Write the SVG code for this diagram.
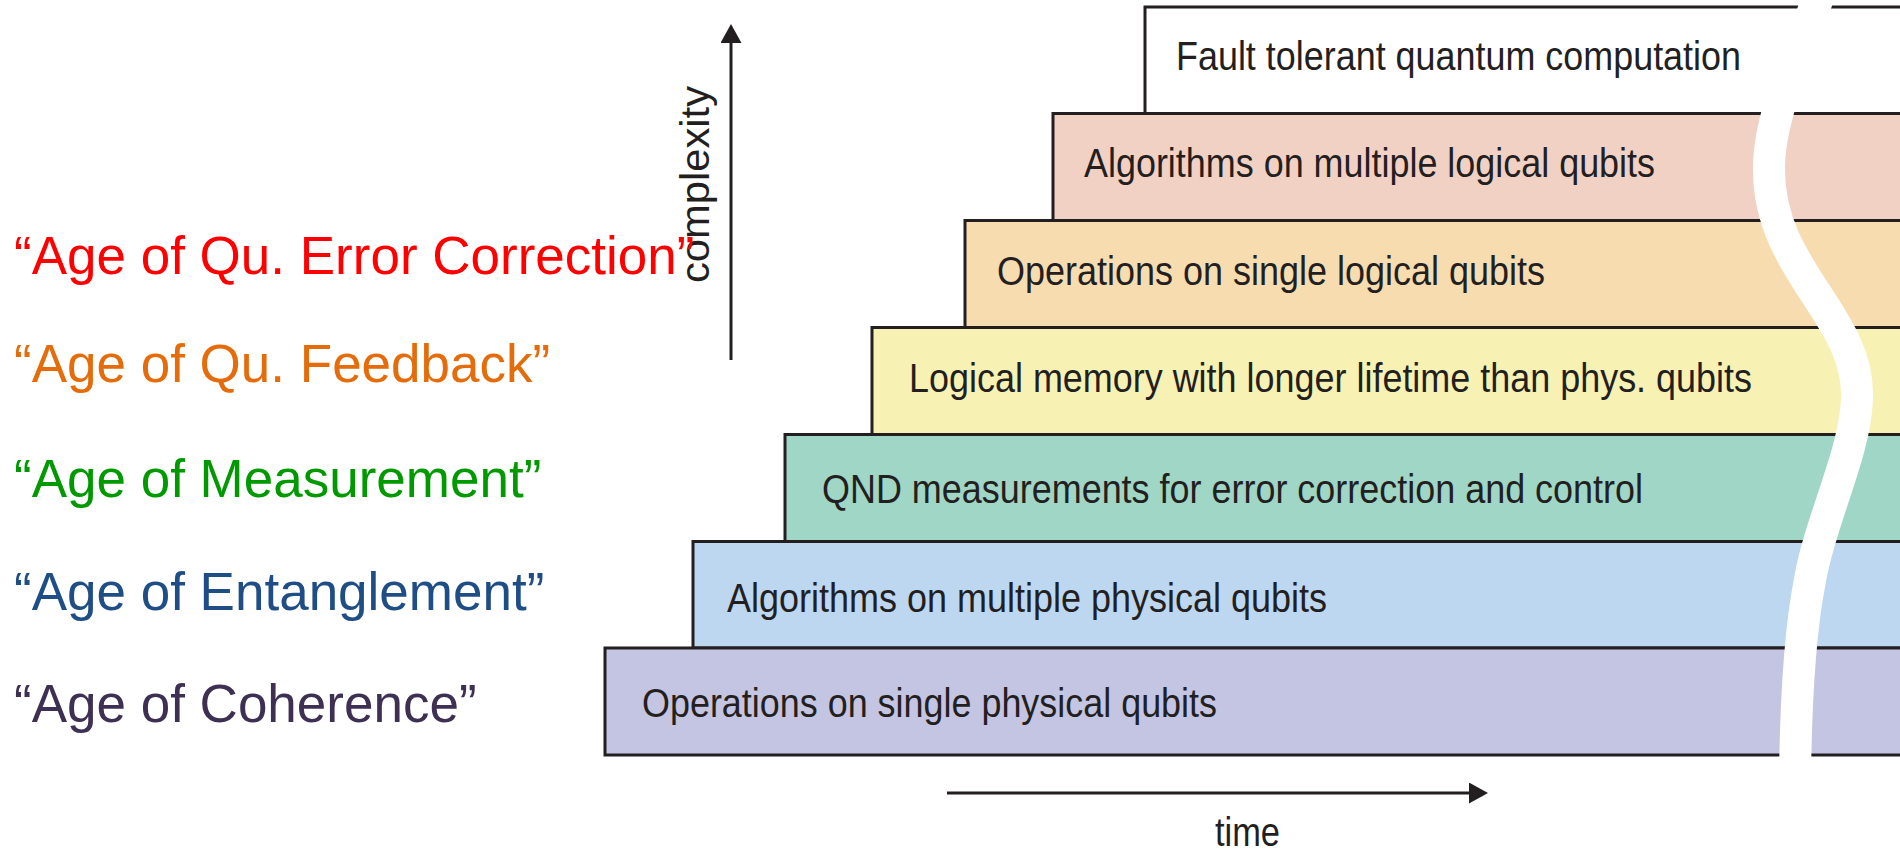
<svg xmlns="http://www.w3.org/2000/svg" width="1900" height="851" viewBox="0 0 1900 851">
  <style>
    .step { stroke: #231f20; stroke-width: 3; }
    .step-label { font-family: "Liberation Sans", Arial, sans-serif; font-size: 40px; fill: #231f20; }
    .age { font-family: "Liberation Sans", Arial, sans-serif; font-size: 53px; }
    .axis { stroke: #231f20; stroke-width: 3; fill: none; }
    .axis-label { font-family: "Liberation Sans", Arial, sans-serif; font-size: 40px; fill: #231f20; }
  </style>
  <defs>
    <marker id="head" markerUnits="userSpaceOnUse" markerWidth="20" markerHeight="21" refX="9" refY="10.5" orient="auto">
      <path d="M0,0 L19,10.5 L0,21 Z" fill="#231f20"/>
    </marker>
  </defs>

  <rect width="1900" height="851" fill="#ffffff"/>

  <!-- staircase of milestones, drawn top to bottom -->
  <g id="fault-tolerant">
    <rect class="step" x="1145" y="7" width="780" height="106.5" fill="#ffffff"/>
    <text class="step-label" x="1176" y="70" textLength="565" lengthAdjust="spacingAndGlyphs">Fault tolerant quantum computation</text>
  </g>
  <g id="algorithms-logical">
    <rect class="step" x="1053" y="113.5" width="880" height="107" fill="#f2d1c5"/>
    <text class="step-label" x="1084" y="177" textLength="571" lengthAdjust="spacingAndGlyphs">Algorithms on multiple logical qubits</text>
  </g>
  <g id="operations-logical">
    <rect class="step" x="965" y="220.5" width="960" height="107" fill="#f7dcb0"/>
    <text class="step-label" x="997" y="285" textLength="548" lengthAdjust="spacingAndGlyphs">Operations on single logical qubits</text>
  </g>
  <g id="logical-memory">
    <rect class="step" x="872" y="327.5" width="1060" height="107" fill="#f7f2b4"/>
    <text class="step-label" x="909" y="392" textLength="843" lengthAdjust="spacingAndGlyphs">Logical memory with longer lifetime than phys. qubits</text>
  </g>
  <g id="qnd-measurements">
    <rect class="step" x="785" y="434.5" width="1140" height="107" fill="#9fd6c6"/>
    <text class="step-label" x="822" y="503" textLength="821" lengthAdjust="spacingAndGlyphs">QND measurements for error correction and control</text>
  </g>
  <g id="algorithms-physical">
    <rect class="step" x="693" y="541.5" width="1240" height="106.5" fill="#bdd7f0"/>
    <text class="step-label" x="727" y="612" textLength="600" lengthAdjust="spacingAndGlyphs">Algorithms on multiple physical qubits</text>
  </g>
  <g id="operations-physical">
    <rect class="step" x="605" y="648" width="1320" height="107" fill="#c4c5e2"/>
    <text class="step-label" x="642" y="717" textLength="575" lengthAdjust="spacingAndGlyphs">Operations on single physical qubits</text>
  </g>

  <!-- wavy white break across the staircase -->
  <path id="break" d="M1820,-10 C1810,30 1768,110 1769,170 C1769,270 1858,315 1857,395 C1857,450 1820,520 1810,580 C1800,630 1796,700 1795,775" fill="none" stroke="#ffffff" stroke-width="32"/>

  <!-- axes -->
  <g id="axes">
    <line class="axis" x1="731" y1="360" x2="731" y2="34" marker-end="url(#head)"/>
    <line class="axis" x1="947" y1="793" x2="1478" y2="793" marker-end="url(#head)"/>
    <text class="axis-label" transform="translate(709,283) rotate(-90)" textLength="197" lengthAdjust="spacingAndGlyphs">complexity</text>
    <text class="axis-label" x="1215" y="846" textLength="65" lengthAdjust="spacingAndGlyphs">time</text>
  </g>

  <!-- era labels -->
  <g id="ages">
    <text class="age" x="14" y="274" fill="#ff0000">“Age of Qu. Error Correction”</text>
    <text class="age" x="14" y="382" fill="#e46c0a">“Age of Qu. Feedback”</text>
    <text class="age" x="14" y="497" fill="#009a00">“Age of Measurement”</text>
    <text class="age" x="14" y="610" fill="#1f4e87">“Age of Entanglement”</text>
    <text class="age" x="14" y="722" fill="#3e3053">“Age of Coherence”</text>
  </g>
</svg>
